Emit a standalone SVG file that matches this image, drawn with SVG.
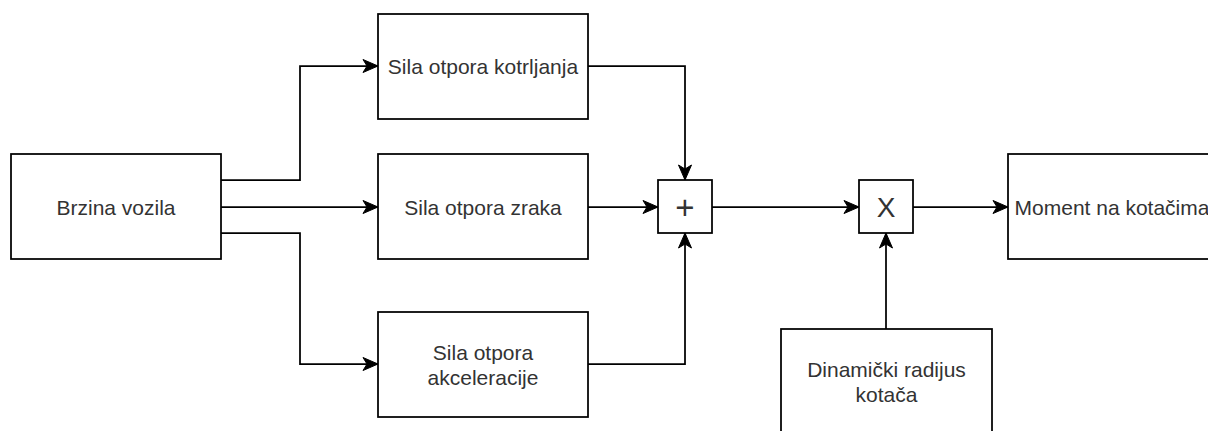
<svg xmlns="http://www.w3.org/2000/svg" width="1208" height="431" viewBox="0 0 1208 431">
<defs>
<style>
.box{fill:#ffffff;stroke:#000000;stroke-width:1.75}
.lbl{font-family:"Liberation Sans",Arial,Helvetica,sans-serif;font-size:21px;fill:#333333;text-anchor:middle}
.op{font-family:"Liberation Sans",Arial,Helvetica,sans-serif;fill:#333333;text-anchor:middle}
.con{fill:none;stroke:#000000;stroke-width:1.75;marker-end:url(#arr)}
</style>
<marker id="arr" viewBox="-16 -8 17 16" refX="0" refY="0" markerWidth="17" markerHeight="16" markerUnits="userSpaceOnUse" orient="auto">
<path d="M0,0 L-15,-6.5 L-11,0 L-15,6.5 Z" fill="#000000" stroke="#000000" stroke-width="1"/>
</marker>
</defs>
<rect width="1208" height="431" fill="#ffffff"/>
<g id="connectors">
<path class="con" d="M221,180 H300 V66 H378"/>
<path class="con" d="M221,207 H378"/>
<path class="con" d="M221,233 H300 V364 H378"/>
<path class="con" d="M588,66 H685 V180"/>
<path class="con" d="M588,207 H658"/>
<path class="con" d="M588,364 H685 V233"/>
<path class="con" d="M712,207 H859"/>
<path class="con" d="M913,207 H1008"/>
<path class="con" d="M886,329 V233"/>
</g>
<g id="brzina">
<rect class="box" x="11" y="154" width="210" height="105"/>
<text class="lbl" x="116" y="214.5">Brzina vozila</text>
</g>
<g id="kotrljanje">
<rect class="box" x="378" y="14" width="210" height="105"/>
<text class="lbl" x="483" y="74">Sila otpora kotrljanja</text>
</g>
<g id="zrak">
<rect class="box" x="378" y="154" width="210" height="105"/>
<text class="lbl" x="483" y="214.5">Sila otpora zraka</text>
</g>
<g id="akceleracija">
<rect class="box" x="378" y="312" width="210" height="105"/>
<text class="lbl" x="483" y="359.5">Sila otpora</text>
<text class="lbl" x="483" y="384.5">akceleracije</text>
</g>
<g id="plus">
<rect class="box" x="658" y="180" width="54" height="53"/>
<text class="op" x="685" y="219" font-size="33">+</text>
</g>
<g id="puta">
<rect class="box" x="859" y="180" width="54" height="53"/>
<text class="op" x="886" y="216.5" font-size="28">X</text>
</g>
<g id="radijus">
<rect class="box" x="781" y="329" width="211" height="110"/>
<text class="lbl" x="886.5" y="377">Dinamički radijus</text>
<text class="lbl" x="886.5" y="402">kotača</text>
</g>
<g id="moment">
<rect class="box" x="1008" y="154" width="215" height="105"/>
<text class="lbl" x="1112" y="214.5">Moment na kotačima</text>
</g>
</svg>
